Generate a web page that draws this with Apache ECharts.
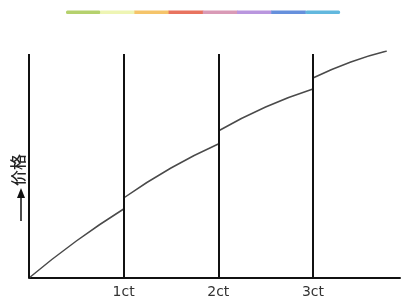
<!DOCTYPE html>
<html><head><meta charset="utf-8">
<script src="https://cdn.jsdelivr.net/npm/echarts@6/dist/echarts.min.js"></script>
<style>html,body{margin:0;padding:0;background:#fff}#c{width:404px;height:302px}</style>
</head><body><div id="c"></div>
<script>
// tick labels (carat positions)
const ctPositions = [1, 2, 3];
const ctLabels = ['1ct', '2ct', '3ct'];
// price curve segments: [carat, price]
const seg1 = [[0, 0], [0.5, 37], [1, 69]];
const seg2 = [[1, 80], [1.5, 110], [2, 134]];
const seg3 = [[2, 147], [2.5, 171], [3, 189]];
const seg4 = [[3, 200], [3.4, 216], [3.78, 227]];
const lineTop = 224;
const barColors = ['#b5d16d', '#eef5b4', '#f5c46a', '#e8735f', '#d99ab6', '#b996de', '#6690dc', '#62b8de'];
const yName = '价格';

const chart = echarts.init(document.getElementById('c'));
const vLines = [0].concat(ctPositions).map(x => [{coord: [x, 0]}, {coord: [x, lineTop]}]);
const segs = [seg1, seg2, seg3, seg4];
const series = segs.map((d, i) => ({
  type: 'line', data: d, smooth: true, symbol: 'none',
  lineStyle: {color: '#4a4a4a', width: 1.5}, z: 3,
  markLine: i === 0 ? {
    silent: true, symbol: 'none', label: {show: false},
    lineStyle: {color: '#111', width: 2, type: 'solid'}, data: vLines
  } : undefined
}));
const segW = 34.2;
const graphics = barColors.map((c, i) => ({
  type: 'rect', left: 66 + i * segW, top: 10.5,
  shape: {width: segW + 0.5, height: 3.5, r: (i === 0 || i === barColors.length - 1) ? 1.5 : 0},
  style: {fill: c}
}));
graphics.push({
  type: 'line', shape: {x1: 21, y1: 221, x2: 21, y2: 196},
  style: {stroke: '#111', lineWidth: 1.5}
});
graphics.push({
  type: 'polygon', shape: {points: [[21, 188], [17, 198], [25, 198]]},
  style: {fill: '#111'}
});
graphics.push({
  type: 'text', x: 18, y: 170, rotation: Math.PI / 2,
  style: {text: yName, fill: '#222', font: '500 16px "Noto Sans CJK SC"', align: 'center', verticalAlign: 'middle'}
});
chart.setOption({
  animation: false,
  grid: {left: 29, right: 4, top: 51, bottom: 24, containLabel: false, outerBoundsMode: 'none'},
  xAxis: {
    type: 'value', min: 0, max: 3.92, interval: 1,
    axisLine: {show: true, lineStyle: {color: '#111', width: 2}},
    axisTick: {show: false}, splitLine: {show: false},
    axisLabel: {
      color: '#333', fontSize: 14, margin: 7, fontFamily: 'DejaVu Sans',
      formatter: v => { const k = ctPositions.indexOf(v); return k >= 0 ? ctLabels[k] : ''; }
    }
  },
  yAxis: {
    type: 'value', min: 0, max: 227,
    axisLine: {show: false}, axisTick: {show: false}, splitLine: {show: false},
    axisLabel: {show: false}
  },
  graphic: graphics,
  series: series
});
</script></body></html>
